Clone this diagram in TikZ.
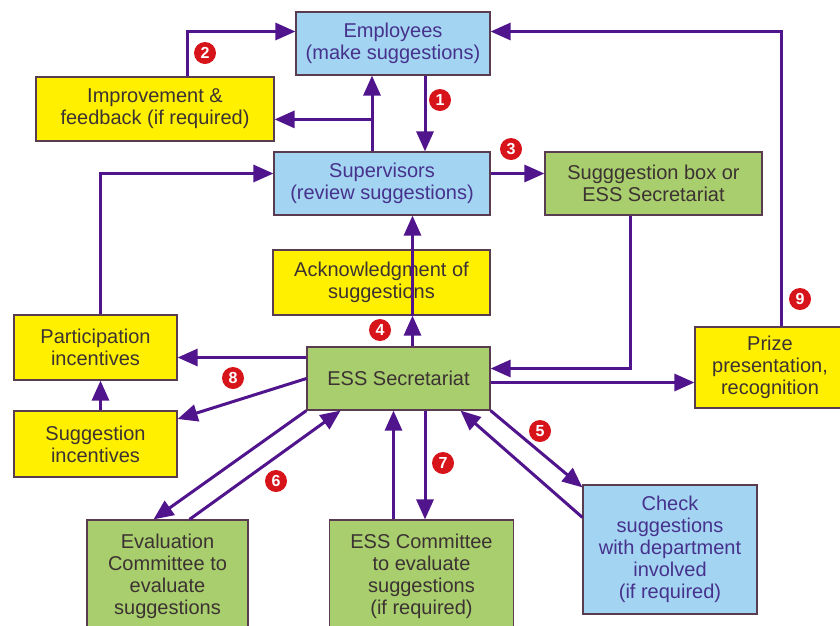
\documentclass[tikz,border=0pt]{standalone}
\usepackage{fontspec}
\setmainfont{Liberation Sans}
\usetikzlibrary{arrows.meta}

\definecolor{boxblue}{HTML}{A3D4F2}
\definecolor{boxyellow}{HTML}{FFF000}
\definecolor{boxgreen}{HTML}{A8CE6E}
\definecolor{arrowpurple}{HTML}{50148C}
\definecolor{boxline}{HTML}{5A3C50}
\definecolor{bluetext}{HTML}{46328C}
\definecolor{darktext}{HTML}{3C3232}
\definecolor{badgered}{HTML}{D7141A}

\tikzset{
    stagebox/.style={draw=boxline, line width=1.2pt, align=center, inner sep=0pt,
        font=\fontsize{20}{22}\selectfont, text=darktext},
    bluebox/.style={stagebox, fill=boxblue, text=bluetext},
    yellowbox/.style={stagebox, fill=boxyellow},
    greenbox/.style={stagebox, fill=boxgreen},
    flow/.style={draw=arrowpurple, line width=3pt, -{Triangle[length=20pt,width=17pt]}},
    badge/.style={circle, fill=badgered, text=white, inner sep=0pt, minimum size=22pt,
        font=\fontsize{16}{16}\selectfont\bfseries}
}

\begin{document}
\begin{tikzpicture}[x=1pt, y=-1pt]
    \useasboundingbox (0, 0) rectangle (840, 625);
    \fill[white] (0, 0) rectangle (840, 625);

    % Boxes
    \node[bluebox, minimum width=194, minimum height=63] (emp) at (393, 43.5) {Employees\\(make suggestions)};
    \node[yellowbox, minimum width=238, minimum height=64] (imp) at (155, 109) {Improvement \&\\feedback (if required)};
    \node[bluebox, minimum width=216, minimum height=63] (sup) at (382, 183.5) {Supervisors\\(review suggestions)};
    \node[greenbox, minimum width=217, minimum height=63] (sbox) at (653.5, 183.5) {Sugggestion box or\\ESS Secretariat};
    \node[yellowbox, minimum width=217, minimum height=65] (ack) at (381.5, 282.5) {Acknowledgment of\\suggestions};
    \node[yellowbox, minimum width=163, minimum height=65] (part) at (95.5, 347.5) {Participation\\incentives};
    \node[greenbox, minimum width=183, minimum height=63] (ess) at (398.5, 378.5) {ESS Secretariat};
    \node[yellowbox, minimum width=150, minimum height=81] (prize) at (770, 367.5) {Prize\\presentation,\\recognition};
    \node[yellowbox, minimum width=163, minimum height=66] (sinc) at (95.5, 444) {Suggestion\\incentives};
    \node[greenbox, minimum width=161, minimum height=112] (evalc) at (167.5, 576) {Evaluation\\Committee to\\evaluate\\suggestions};
    \node[greenbox, minimum width=184, minimum height=112] (essc) at (421.5, 576) {ESS Committee\\to evaluate\\suggestions\\(if required)};
    \node[bluebox, minimum width=174, minimum height=129] (check) at (670, 549.5) {Check\\suggestions\\with department\\involved\\(if required)};

    % Top loop
    \draw[flow] ([xshift=32pt]emp.south) -- ([xshift=32pt]emp.south |- sup.north);
    \draw[flow] ([xshift=-10pt]sup.north) -- ([xshift=-10pt]sup.north |- emp.south);
    \coordinate (fork) at ([xshift=-10pt, yshift=32pt]sup.north);
    \draw[flow] (fork) -- (fork -| imp.east);
    \draw[flow] ([xshift=32pt]imp.north) |- ([yshift=12pt]emp.west);
    \draw[flow] ([yshift=10pt]sup.east) -- ([yshift=10pt]sup.east -| sbox.west);
    \draw[flow] ([xshift=-23pt]sbox.south) |- ([yshift=10pt]ess.east);

    % Secretariat outputs
    \draw[flow] ([yshift=-4pt]ess.east) -- ([yshift=-4pt]ess.east -| prize.west);
    \draw[flow] ([xshift=11pt]prize.north) |- ([yshift=12pt]emp.east);
    \draw[flow] ([xshift=14pt]ess.north) -- ([xshift=14pt]ess.north |- ack.south);
    \draw[flow] ([xshift=31pt]ack.south) -- ([xshift=31pt]ack.south |- sup.south);
    \draw[flow] ([yshift=21pt]ess.west) -- ([yshift=21pt]ess.west -| part.east);
    \draw[flow] ([xshift=5pt]part.north) |- ([yshift=10pt]sup.west);
    \draw[flow] (ess.west) -- ([yshift=25pt]sinc.east);
    \draw[flow] ([xshift=5pt]sinc.north) -- ([xshift=5pt]sinc.north |- part.south);

    % Evaluation paths
    \draw[flow] (ess.south west) -- ([xshift=-14pt]evalc.north);
    \draw[flow] ([xshift=22pt]evalc.north) -- ([xshift=-58pt]ess.south);
    \draw[flow] ([xshift=-28pt]essc.north) -- ([xshift=-28pt]essc.north |- ess.south);
    \draw[flow] ([xshift=26.5pt]ess.south) -- ([xshift=26.5pt]ess.south |- essc.north);
    \draw[flow] (ess.south east) -- ([yshift=-3pt]check.north west);
    \draw[flow] ([yshift=-33pt]check.north west) -- ([xshift=62pt]ess.south);

    % Step numbers
    \node[badge] (b1) at (440, 100) {1};
    \node[badge] (b2) at (205, 53) {2};
    \node[badge] (b3) at (511, 149) {3};
    \node[badge] (b4) at (380, 330) {4};
    \node[badge] (b5) at (540, 431) {5};
    \node[badge] (b6) at (276, 481) {6};
    \node[badge] (b7) at (443, 463) {7};
    \node[badge] (b8) at (233, 378) {8};
    \node[badge] (b9) at (800, 299) {9};
\end{tikzpicture}
\end{document}
